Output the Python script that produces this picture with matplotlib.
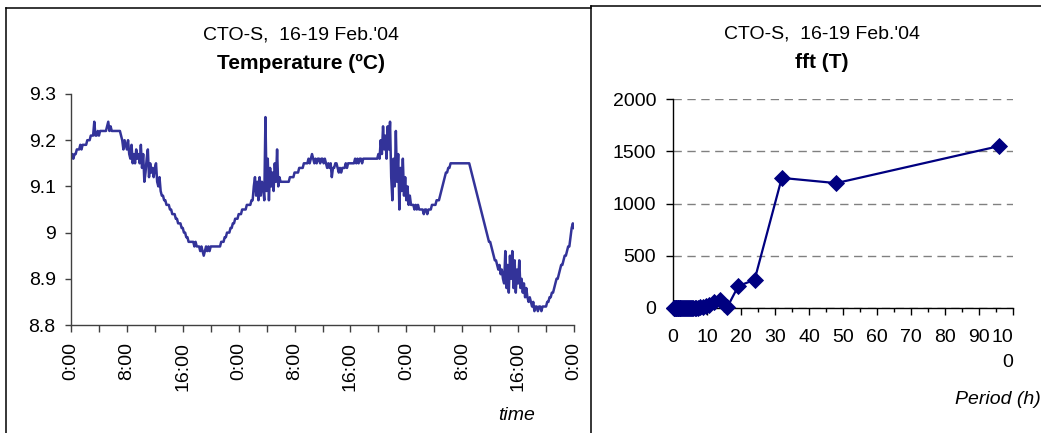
import matplotlib
matplotlib.use("Agg")
import matplotlib.pyplot as plt
import numpy as np
from matplotlib.lines import Line2D
from matplotlib.ticker import MultipleLocator

plt.rcParams['font.family'] = ['Liberation Sans', 'DejaVu Sans']

# ---- Temperature record, 10-minute samples over 3 days (one row per hour) ----
temperature = [
    9.16, 9.17, 9.16, 9.17, 9.17, 9.18,
    9.18, 9.18, 9.19, 9.18, 9.19, 9.19,
    9.19, 9.19, 9.20, 9.20, 9.20, 9.21,
    9.21, 9.21, 9.24, 9.21, 9.21, 9.22,
    9.21, 9.22, 9.22, 9.22, 9.22, 9.22,
    9.22, 9.23, 9.24, 9.22, 9.23, 9.22,
    9.22, 9.22, 9.22, 9.22, 9.22, 9.22,
    9.22, 9.21, 9.20, 9.18, 9.20, 9.19,
    9.18, 9.20, 9.17, 9.16, 9.19, 9.15,
    9.17, 9.15, 9.18, 9.16, 9.17, 9.15,
    9.19, 9.14, 9.17, 9.11, 9.13, 9.16,
    9.18, 9.12, 9.15, 9.13, 9.14, 9.12,
    9.14, 9.15, 9.11, 9.10, 9.12, 9.09,
    9.08, 9.08, 9.07, 9.07, 9.06, 9.06,
    9.06, 9.05, 9.05, 9.04, 9.04, 9.04,
    9.03, 9.03, 9.02, 9.02, 9.02, 9.01,
    9.01, 9.00, 9.00, 8.99, 8.99, 8.98,
    8.98, 8.98, 8.98, 8.98, 8.97, 8.98,
    8.97, 8.97, 8.97, 8.96, 8.97, 8.96,
    8.95, 8.96, 8.97, 8.96, 8.97, 8.96,
    8.97, 8.97, 8.97, 8.97, 8.97, 8.97,
    8.97, 8.97, 8.97, 8.98, 8.98, 8.98,
    8.99, 8.99, 9.00, 9.00, 9.00, 9.01,
    9.01, 9.02, 9.02, 9.03, 9.03, 9.03,
    9.04, 9.04, 9.04, 9.05, 9.05, 9.05,
    9.05, 9.06, 9.06, 9.06, 9.06, 9.07,
    9.07, 9.10, 9.12, 9.08, 9.11, 9.07,
    9.12, 9.08, 9.11, 9.10, 9.07, 9.25,
    9.09, 9.16, 9.07, 9.14, 9.10, 9.13,
    9.09, 9.15, 9.11, 9.18, 9.10, 9.12,
    9.11, 9.11, 9.11, 9.11, 9.11, 9.11,
    9.11, 9.11, 9.12, 9.12, 9.12, 9.12,
    9.13, 9.13, 9.13, 9.13, 9.14, 9.14,
    9.14, 9.14, 9.15, 9.15, 9.15, 9.15,
    9.16, 9.15, 9.16, 9.17, 9.16, 9.15,
    9.16, 9.15, 9.16, 9.16, 9.15, 9.16,
    9.16, 9.15, 9.16, 9.15, 9.14, 9.15,
    9.14, 9.15, 9.12, 9.14, 9.14, 9.15,
    9.15, 9.14, 9.13, 9.14, 9.13, 9.14,
    9.14, 9.14, 9.15, 9.14, 9.15, 9.15,
    9.15, 9.15, 9.15, 9.15, 9.16, 9.15,
    9.16, 9.15, 9.16, 9.16, 9.15, 9.16,
    9.16, 9.16, 9.16, 9.16, 9.16, 9.16,
    9.16, 9.16, 9.16, 9.16, 9.16, 9.16,
    9.17, 9.16, 9.20, 9.17, 9.23, 9.18,
    9.21, 9.16, 9.23, 9.18, 9.24, 9.12,
    9.07, 9.16, 9.10, 9.22, 9.11, 9.17,
    9.05, 9.14, 9.09, 9.16, 9.08, 9.12,
    9.07, 9.10, 9.06, 9.08, 9.06, 9.06,
    9.06, 9.05, 9.06, 9.05, 9.06, 9.05,
    9.05, 9.05, 9.05, 9.04, 9.05, 9.05,
    9.04, 9.05, 9.05, 9.05, 9.06, 9.06,
    9.06, 9.06, 9.07, 9.07, 9.07, 9.08,
    9.09, 9.10, 9.11, 9.12, 9.13, 9.13,
    9.14, 9.14, 9.15, 9.15, 9.15, 9.15,
    9.15, 9.15, 9.15, 9.15, 9.15, 9.15,
    9.15, 9.15, 9.15, 9.15, 9.15, 9.15,
    9.15, 9.14, 9.13, 9.12, 9.11, 9.10,
    9.09, 9.08, 9.07, 9.06, 9.05, 9.04,
    9.03, 9.02, 9.01, 9.00, 8.99, 8.98,
    8.98, 8.97, 8.96, 8.95, 8.94, 8.94,
    8.93, 8.92, 8.93, 8.91, 8.92, 8.90,
    8.89, 8.96, 8.88, 8.93, 8.87, 8.95,
    8.90, 8.96, 8.88, 8.94, 8.87, 8.92,
    8.89, 8.94, 8.88, 8.90, 8.87, 8.89,
    8.86, 8.88, 8.86, 8.85, 8.86, 8.85,
    8.84, 8.85, 8.83, 8.84, 8.84, 8.83,
    8.84, 8.84, 8.83, 8.84, 8.84, 8.84,
    8.84, 8.85, 8.85, 8.86, 8.86, 8.87,
    8.87, 8.88, 8.89, 8.90, 8.90, 8.91,
    8.92, 8.93, 8.93, 8.94, 8.95, 8.95,
    8.96, 8.97, 8.97, 8.99, 9.01, 9.02,
    9.01,
]
sample_step_h = 10 / 60
hours = np.arange(len(temperature)) * sample_step_h

time_tick_hours = [0, 8, 16, 24, 32, 40, 48, 56, 64, 72]
time_tick_labels = ["0:00", "8:00", "16:00", "0:00", "8:00", "16:00",
                    "0:00", "8:00", "16:00", "0:00"]
temp_ticks = [8.8, 8.9, 9.0, 9.1, 9.2, 9.3]
temp_tick_labels = ["8.8", "8.9", "9", "9.1", "9.2", "9.3"]

# ---- Spectrum of the temperature record ----
period_h = [96, 48, 32, 24, 19.2, 16, 13.7, 12, 10.7, 9.6, 8.7, 8.0, 7.4,
            6.9, 6.4, 6.0, 5.6, 5.3, 5.1, 4.8, 4.4, 4.0, 3.7, 3.4, 3.2,
            3.0, 2.7, 2.4, 2.2, 2.0, 1.8, 1.6, 1.4, 1.2, 1.0, 0.8, 0.6,
            0.4, 0.3]
fft_amp = [1550, 1195, 1245, 270, 210, 10, 72, 58, 30, 20, 10, 5, 4,
           3, 2, 2, 1, 1, 1, 1, 1, 1, 0, 0, 0,
           0, 0, 0, 0, 0, 0, 0, 0, 0, 0, 0, 0,
           0, 0]
period_ticks = [0, 10, 20, 30, 40, 50, 60, 70, 80, 90, 100]
period_tick_labels = ["0", "10", "20", "30", "40", "50", "60", "70", "80",
                      "90", "10\n0"]
fft_ticks = [0, 500, 1000, 1500, 2000]

W, H = 1041, 433
fig = plt.figure(figsize=(W / 100, H / 100), dpi=100)
fig.patch.set_facecolor("white")


def fx(px):
    return px / W


def fy(py):
    return 1 - py / H


FS = 14
axis_col = "#404040"

# ---------------- left panel: temperature ----------------
ax1 = fig.add_axes([fx(71), fy(325), fx(574) - fx(71), fy(94) - fy(325)])
ax1.plot(hours, temperature, color="#333399", lw=1.8)
ax1.set_xlim(0, 72)
ax1.set_ylim(8.8, 9.3)
ax1.set_yticks(temp_ticks)
ax1.set_yticklabels(temp_tick_labels)
ax1.set_xticks(time_tick_hours)
ax1.set_xticklabels(time_tick_labels, rotation=90, va="top", ha="center")
ax1.xaxis.set_minor_locator(MultipleLocator(4))
for s in ("top", "right"):
    ax1.spines[s].set_visible(False)
for s in ("left", "bottom"):
    ax1.spines[s].set_color(axis_col)
    ax1.spines[s].set_linewidth(1.0)
ax1.tick_params(axis="y", which="major", direction="out", length=4,
                width=1.0, color=axis_col, labelsize=FS, pad=7)
ax1.tick_params(axis="x", which="both", direction="out", length=5,
                width=1.0, color=axis_col, labelsize=FS, pad=7)

fig.text(fx(301), fy(35), "CTO-S,  16-19 Feb.'04", ha="center",
         va="center", fontsize=FS)
fig.text(fx(301), fy(63), "Temperature (\u00baC)", ha="center",
         va="center", fontsize=15, fontweight="bold")
fig.text(fx(517), fy(415), "time", ha="center", va="center",
         fontsize=FS, style="italic")

# ---------------- right panel: spectrum ----------------
ax2 = fig.add_axes([fx(673), fy(308), fx(1013) - fx(673), fy(99) - fy(308)])
ax2.plot(period_h, fft_amp, color="#000080", lw=1.6, marker="D",
         markersize=8, markeredgewidth=0.6, markeredgecolor="#000080",
         markerfacecolor="#000080", clip_on=False, zorder=3)
ax2.set_xlim(0, 100)
ax2.set_ylim(0, 2000)
ax2.set_yticks(fft_ticks)
ax2.set_xticks(period_ticks)
ax2.set_xticklabels(period_tick_labels)
ax2.xaxis.set_minor_locator(MultipleLocator(5))
for s in ("top", "right"):
    ax2.spines[s].set_visible(False)
for s in ("left", "bottom"):
    ax2.spines[s].set_color("black")
    ax2.spines[s].set_linewidth(1.0)
ax2.yaxis.grid(True, color="#808080", linestyle=(0, (6, 4)), lw=1.0)
ax2.set_axisbelow(True)
ax2.tick_params(axis="y", direction="out", length=5, width=1.0,
                labelsize=FS, pad=7)
ax2.tick_params(axis="x", which="major", direction="out", length=5,
                width=1.0, labelsize=FS, pad=10)
ax2.tick_params(axis="x", which="minor", direction="out", length=3,
                width=1.0)
last = ax2.get_xticklabels()[-1]
last.set_ha("right")
last.set_multialignment("right")
last.set_linespacing(1.6)

fig.text(fx(822), fy(34), "CTO-S,  16-19 Feb.'04", ha="center",
         va="center", fontsize=FS)
fig.text(fx(822), fy(62), "fft (T)", ha="center", va="center",
         fontsize=15, fontweight="bold")
fig.text(fx(998), fy(399), "Period (h)", ha="center", va="center",
         fontsize=FS, style="italic")

# ---------------- chart-area frames ----------------
frame_kw = dict(color="black", lw=1.1, transform=fig.transFigure)
fig.add_artist(Line2D([fx(6), fx(6)], [fy(8), fy(440)], **frame_kw))
fig.add_artist(Line2D([fx(6), fx(591)], [fy(8), fy(8)], **frame_kw))
fig.add_artist(Line2D([fx(591), fx(591)], [fy(6), fy(440)], **frame_kw))
fig.add_artist(Line2D([fx(591), fx(1045)], [fy(6), fy(6)], **frame_kw))

fig.savefig("out.png", dpi=100, facecolor="white")
